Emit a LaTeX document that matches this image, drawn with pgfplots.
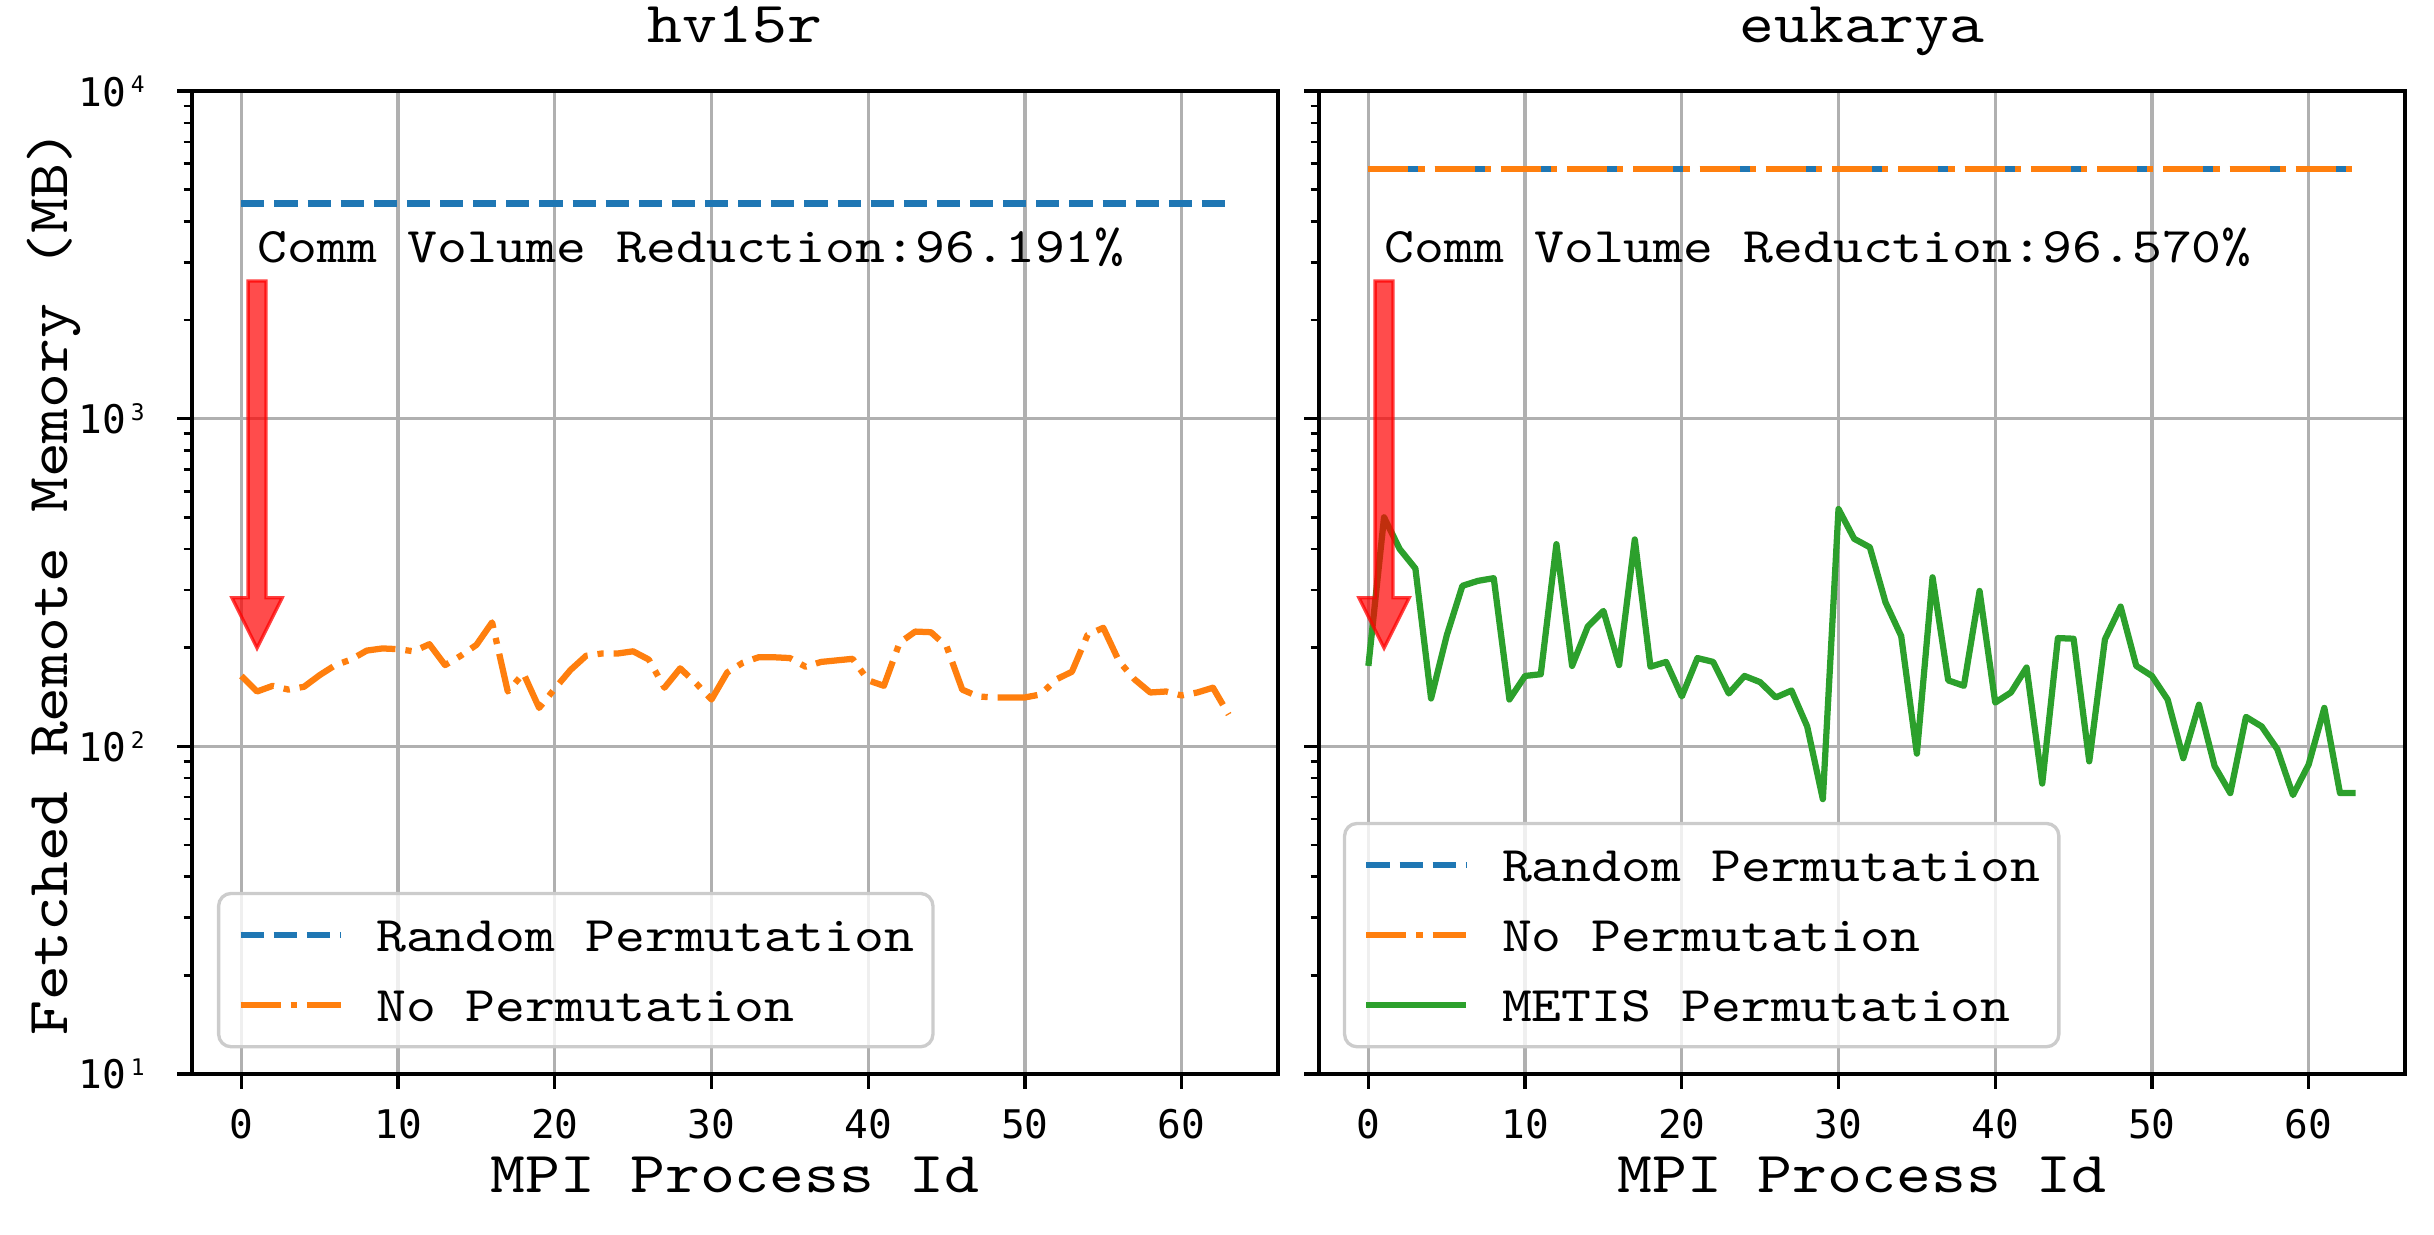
\documentclass[border=0pt]{standalone}
\usepackage{fontspec}
\usepackage{pgfplots}
\pgfplotsset{compat=1.18}
\newfontfamily\cour{lmmono10-regular.otf}[FakeStretch=1.143]
\newfontfamily\dvm{DejaVu Sans Mono}
\definecolor{c0}{HTML}{1F77B4}
\definecolor{c1}{HTML}{FF7F0E}
\definecolor{c2}{HTML}{2CA02C}
\definecolor{gridc}{HTML}{B0B0B0}
\newcommand\tp[1]{10\kern1.2bp\raisebox{3.2bp}{\fontsize{5.5}{6}\selectfont #1}}
\newcommand\redarrow{\draw[red, draw opacity=0.75, fill=red, fill opacity=0.7, line width=0.8bp, line join=miter]
 (axis cs:0.43,2630) -- (axis cs:1.57,2630) -- (axis cs:1.57,284) -- (axis cs:2.6,284) -- (axis cs:1,199.5) -- (axis cs:-0.6,284) -- (axis cs:0.43,284) -- cycle;}
\tikzset{
  rnd/.style={c0, line width=1.5bp, dash pattern=on 5.55bp off 2.4bp},
  nop/.style={c1, line width=1.5bp, line join=round, dash pattern=on 9.6bp off 2.4bp on 1.5bp off 2.4bp},
  met/.style={c2, line width=1.5bp, line join=round, solid},
}
\begin{document}
\begin{tikzpicture}
\useasboundingbox (0,0) rectangle (584.16bp,296.16bp);
\begin{axis}[at={(46.08bp,38.4bp)}, anchor=south west,
    scale only axis, width=260.64bp, height=235.92bp,
    ymode=log, ymin=10, ymax=10000, xmin=-3.15, xmax=66.15,
    xtick={0,10,20,30,40,50,60}, ytick={10,100,1000,10000},
    minor ytick={20,30,40,50,60,70,80,90,200,300,400,500,600,700,800,900,2000,3000,4000,5000,6000,7000,8000,9000},
    tick align=outside, tick pos=left,
    major tick length=3.5bp, minor tick length=2bp,
    major tick style={black, line width=0.8bp},
    minor tick style={black, line width=0.6bp},
    axis line style={line width=0.8bp},
    grid=major, major grid style={gridc, line width=0.8bp},
    /pgf/number format/assume math mode=true,
    xticklabel style={font=\fontsize{9.5}{11}\selectfont\dvm, inner sep=0pt, anchor=base, yshift=-12bp},
    yticklabel style={font=\fontsize{9.5}{11}\selectfont\dvm, inner sep=0pt, anchor=base east, xshift=-7.7bp, yshift=-3.6bp},
    title style={at={(axis description cs:0.5,1.0244)}, anchor=base, font=\fontsize{14}{16}\selectfont\cour, inner sep=0pt},
    xlabel style={at={(axis description cs:0.5,-0.121)}, anchor=base, font=\fontsize{14}{16}\selectfont\cour, inner sep=0pt},
    ylabel style={at={(axis description cs:-0.115,0.5)}, anchor=base, font=\fontsize{14}{16}\selectfont\cour, inner sep=0pt},
    legend style={at={(0.023,0.026)}, anchor=south west, draw=black!20, line width=0.8bp,
      rounded corners=3bp, fill=white, fill opacity=0.8, text opacity=1,
      font=\fontsize{12}{14}\selectfont\cour, inner xsep=4.5bp, inner ysep=4bp,
      row sep=4.8bp, column sep=7.8bp,
      nodes={inner sep=0pt, text height=10bp, text depth=2bp}},
    legend cell align=left,
    legend image code/.code={\draw[#1] (0bp,0bp) -- (24bp,0bp);},
  title={hv15r}, xlabel={MPI Process Id}, ylabel={Fetched Remote Memory (MB)},
  yticklabels={\tp{1},\tp{2},\tp{3},\tp{4}}]
\addplot[rnd] coordinates {(0,4540) (63,4540)};
\addlegendentry{Random Permutation}
\addplot[nop] coordinates {(0,164)(1,147)(2,153)(3,149)(4,152)(5,165)(6,177)(7,184)(8,196)(9,199)(10,198)(11,195)(12,205)(13,177)(14,189)(15,204)(16,239)(17,147)(18,167)(19,131)(20,150)(21,171)(22,189)(23,192)(24,192)(25,195)(26,184)(27,151)(28,173)(29,156)(30,139)(31,168)(32,180)(33,187)(34,187)(35,186)(36,175)(37,181)(38,183)(39,185)(40,159)(41,153)(42,207)(43,224)(44,223)(45,202)(46,149)(47,142)(48,141)(49,141)(50,141)(51,144)(52,160)(53,169)(54,219)(55,230)(56,182)(57,160)(58,146)(59,147)(60,143)(61,146)(62,151)(63,125)};
\addlegendentry{No Permutation}
\node[anchor=base west, inner sep=0pt, font=\fontsize{12}{14}\selectfont\cour] at (axis cs:1,3000) {Comm Volume Reduction:96.191\%};
\redarrow
\end{axis}
\begin{axis}[at={(316.56bp,38.4bp)}, anchor=south west,
    scale only axis, width=260.64bp, height=235.92bp,
    ymode=log, ymin=10, ymax=10000, xmin=-3.15, xmax=66.15,
    xtick={0,10,20,30,40,50,60}, ytick={10,100,1000,10000},
    minor ytick={20,30,40,50,60,70,80,90,200,300,400,500,600,700,800,900,2000,3000,4000,5000,6000,7000,8000,9000},
    tick align=outside, tick pos=left,
    major tick length=3.5bp, minor tick length=2bp,
    major tick style={black, line width=0.8bp},
    minor tick style={black, line width=0.6bp},
    axis line style={line width=0.8bp},
    grid=major, major grid style={gridc, line width=0.8bp},
    /pgf/number format/assume math mode=true,
    xticklabel style={font=\fontsize{9.5}{11}\selectfont\dvm, inner sep=0pt, anchor=base, yshift=-12bp},
    title style={at={(axis description cs:0.5,1.0244)}, anchor=base, font=\fontsize{14}{16}\selectfont\cour, inner sep=0pt},
    xlabel style={at={(axis description cs:0.5,-0.121)}, anchor=base, font=\fontsize{14}{16}\selectfont\cour, inner sep=0pt},
    legend style={at={(0.022,0.026)}, anchor=south west, draw=black!20, line width=0.8bp,
      rounded corners=3bp, fill=white, fill opacity=0.8, text opacity=1,
      font=\fontsize{12}{14}\selectfont\cour, inner xsep=4.5bp, inner ysep=4bp,
      row sep=4.8bp, column sep=7.8bp,
      nodes={inner sep=0pt, text height=10bp, text depth=2bp}},
    legend cell align=left,
    legend image code/.code={\draw[#1] (0bp,0bp) -- (24bp,0bp);},
  title={eukarya}, xlabel={MPI Process Id}, yticklabels={}]
\addplot[rnd] coordinates {(0,5770) (63,5770)};
\addlegendentry{Random Permutation}
\addplot[nop] coordinates {(0,5770) (63,5770)};
\addlegendentry{No Permutation}
\addplot[met] coordinates {(0,176)(1,500)(2,400)(3,349)(4,140)(5,218)(6,309)(7,320)(8,326)(9,139)(10,164)(11,166)(12,414)(13,176)(14,232)(15,259)(16,177)(17,428)(18,175)(19,181)(20,142)(21,186)(22,181)(23,145)(24,164)(25,157)(26,141)(27,148)(28,115)(29,69)(30,530)(31,430)(32,405)(33,275)(34,217)(35,95)(36,328)(37,159)(38,153)(39,298)(40,136)(41,146)(42,174)(43,77)(44,214)(45,213)(46,90)(47,212)(48,267)(49,176)(50,164)(51,139)(52,92)(53,134)(54,87)(55,72)(56,123)(57,115)(58,98)(59,71)(60,88)(61,131)(62,72)(63,72)};
\addlegendentry{METIS Permutation}
\node[anchor=base west, inner sep=0pt, font=\fontsize{12}{14}\selectfont\cour] at (axis cs:1,3000) {Comm Volume Reduction:96.570\%};
\redarrow
\end{axis}
\end{tikzpicture}
\end{document}
